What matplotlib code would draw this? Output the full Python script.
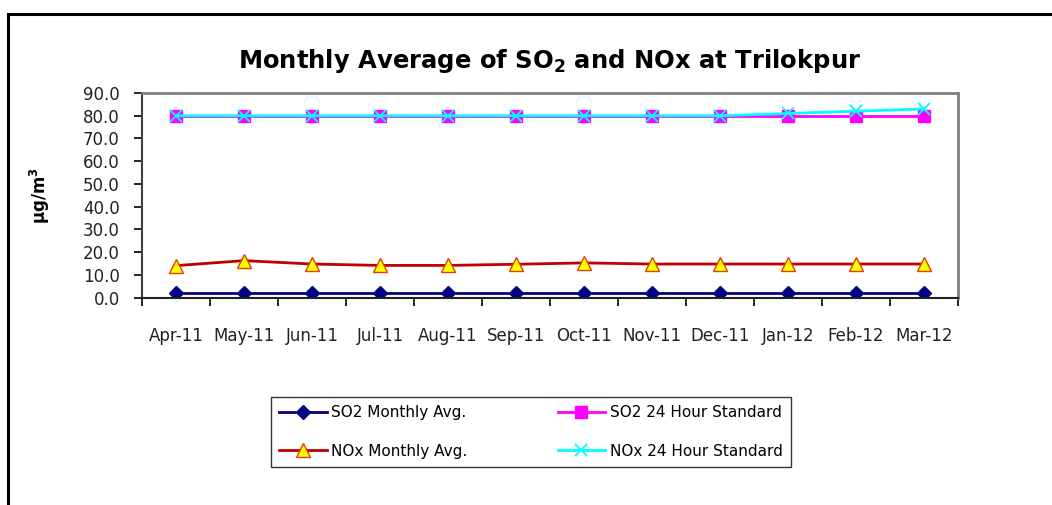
import matplotlib.pyplot as plt
import matplotlib.patches as mpatches
import numpy as np

plt.rcParams['font.family'] = ['DejaVu Sans']

# Data
months = ['Apr-11', 'May-11', 'Jun-11', 'Jul-11', 'Aug-11', 'Sep-11',
          'Oct-11', 'Nov-11', 'Dec-11', 'Jan-12', 'Feb-12', 'Mar-12']
so2_avg = [1.9, 1.9, 1.9, 1.9, 1.9, 1.9, 1.9, 1.9, 1.9, 1.9, 1.9, 1.9]
nox_avg = [14.1, 16.3, 14.8, 14.2, 14.2, 14.7, 15.3, 14.8, 14.8, 14.8, 14.8, 14.8]
so2_std = [80, 80, 80, 80, 80, 80, 80, 80, 80, 80, 80, 80]
nox_std = [80, 80, 80, 80, 80, 80, 80, 80, 80, 81, 82, 83]

fig = plt.figure(figsize=(10.52, 5.05), dpi=100)

# Outer chart border (only top and left edges visible)
fig.patches.append(mpatches.Rectangle((8 / 1052, -0.1), 1.2, 1.1 - 14 / 505,
                                      transform=fig.transFigure, fill=False,
                                      edgecolor='black', linewidth=2.2))

ax = fig.add_axes([142 / 1052, 1 - 297.7 / 505, 816 / 1052, 204.7 / 505])
x = np.arange(len(months))

# Plot the four series
ax.plot(x, so2_avg, color='#000080', linewidth=2, marker='D', markersize=7,
        markerfacecolor='#000080', markeredgecolor='#000080', label='SO2 Monthly Avg.')
ax.plot(x, nox_avg, color='#C00000', linewidth=2, marker='^', markersize=10,
        markerfacecolor='#FFFF00', markeredgecolor='#E04000', label='NOx Monthly Avg.')
ax.plot(x, so2_std, color='#FF00FF', linewidth=2, marker='s', markersize=9,
        markerfacecolor='#FF00FF', markeredgecolor='#FF00FF', label='SO2 24 Hour Standard')
ax.plot(x, nox_std, color='#00FFFF', linewidth=2, marker='x', markersize=9,
        markeredgewidth=1.3, label='NOx 24 Hour Standard')

ax.set_xlim(-0.5, len(months) - 0.5)
ax.set_ylim(0, 90)
ax.set_yticks(np.arange(0, 91, 10))
ax.set_yticklabels([f'{v:.1f}' for v in np.arange(0, 91, 10)], fontsize=12, color='#222222')

# Ticks at category boundaries, labels at centers
ax.set_xticks(np.arange(-0.5, len(months), 1))
ax.set_xticklabels([])
ax.set_xticks(x, minor=True)
ax.set_xticklabels(months, minor=True, fontsize=12, color='#222222')
ax.tick_params(axis='x', which='major', direction='out', length=6, width=1.2)
ax.tick_params(axis='x', which='minor', length=0, pad=21)
ax.tick_params(axis='y', direction='out', length=6, width=1.2, pad=10)

for side in ['top', 'right']:
    ax.spines[side].set_color('#808080')
    ax.spines[side].set_linewidth(2)
ax.spines['left'].set_color('#404040')
ax.spines['left'].set_linewidth(1.5)
ax.spines['bottom'].set_color('#202020')
ax.spines['bottom'].set_linewidth(1.5)

ax.set_title('Monthly Average of SO$_\\mathregular{2}$ and NOx at Trilokpur',
             fontsize=17.5, fontweight='bold', pad=18)
fig.text(40 / 1052, 1 - 196 / 505, 'µg/m$^\\mathregular{3}$', rotation=90, fontsize=12,
         fontweight='bold', ha='center', va='center')

# Legend in two columns below the plot
handles, labels = ax.get_legend_handles_labels()
leg = fig.legend(handles, labels, ncol=2, loc='center',
                 bbox_to_anchor=(531 / 1052, 1 - 432 / 505),
                 fontsize=11, frameon=True, fancybox=False, edgecolor='black',
                 handlelength=3.1, handletextpad=0.3, columnspacing=5.9,
                 labelspacing=1.55, borderpad=0.55)
leg.get_frame().set_linewidth(1)

fig.savefig('out.png', dpi=100)
